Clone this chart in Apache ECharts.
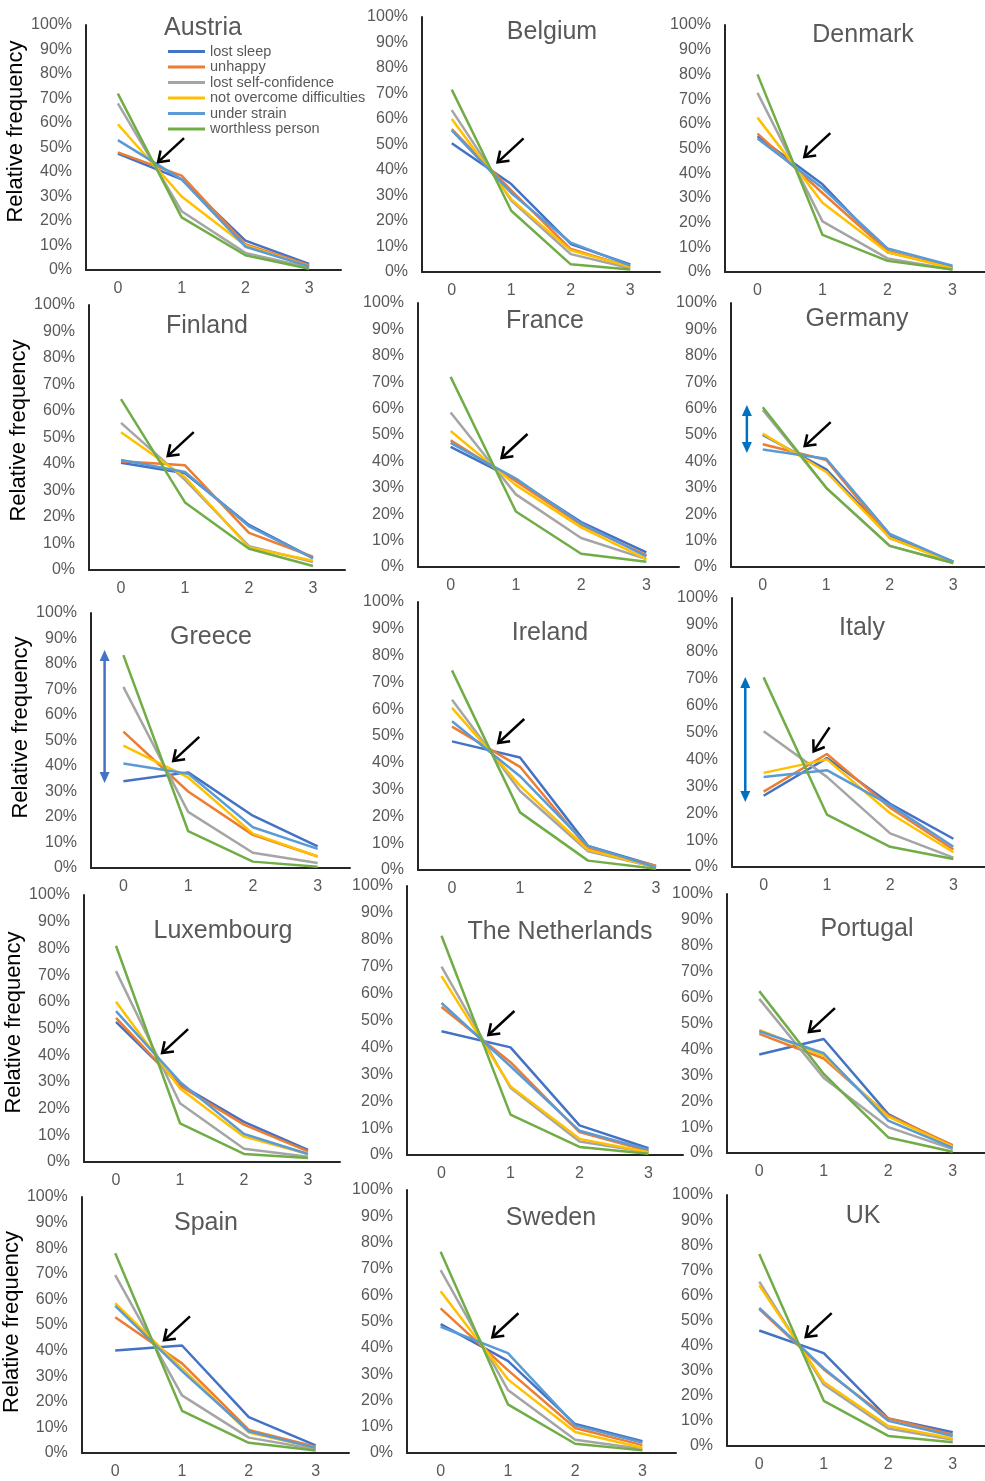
<!DOCTYPE html>
<html>
<head>
<meta charset="utf-8">
<script src="https://cdn.jsdelivr.net/npm/echarts@6/dist/echarts.min.js"></script>
<style>
  html, body { margin: 0; padding: 0; background: #fff; }
  #main { width: 985px; height: 1481px; }
</style>
</head>
<body>
<div id="main"></div>
<script>
// x categories (number of times) and y ticks
const categories = ['0', '1', '2', '3']
const metrics = ['lost sleep', 'unhappy', 'lost self-confidence', 'not overcome difficulties', 'under strain', 'worthless person']
const countries = ['Austria', 'Belgium', 'Denmark', 'Finland', 'France', 'Germany', 'Greece', 'Ireland', 'Italy',
    'Luxembourg', 'The Netherlands', 'Portugal', 'Spain', 'Sweden', 'UK']

// relative frequency in %, one row per metric (same order as metrics)
const austria = [[47.5, 37, 12, 2.5], [48, 38.5, 10.5, 2], [68, 24, 7, 1], [59.5, 30, 10, 1.5], [53, 37, 9.5, 1.5], [72, 21.5, 6, 0.5]]
const belgium = [[50.5, 34.5, 11, 3], [56, 32, 9, 2], [63.5, 28, 7, 1.5], [60, 28.5, 8.5, 2], [55.5, 31, 11.5, 2.5], [71.5, 24, 3, 1]]
const denmark = [[55, 35.5, 8, 2], [56, 32, 8.5, 1.5], [72.5, 20.5, 5.5, 1], [62.5, 28, 8, 1.5], [54, 34, 9.5, 2.5], [80, 15, 4.5, 1]]
const finland = [[40.5, 36.5, 17, 4.5], [41, 39.5, 14, 5], [55.5, 34, 9, 3], [52, 35, 8.5, 3.5], [41.5, 37, 16.5, 4.5], [64.5, 25.5, 8, 1.5]]
const france = [[45.5, 33, 17, 5.5], [48, 32.5, 16, 4.5], [58.5, 27.5, 11, 3], [51.5, 31, 15, 3], [47, 33.5, 16.5, 4], [72, 21, 5, 2]]
const germany = [[50, 37, 11.5, 2], [46.5, 40.5, 11, 2], [59.5, 30, 8, 1.5], [50.5, 36, 11, 1.5], [44.5, 41, 12.5, 2], [60.5, 30, 8, 1.5]]
const greece = [[34, 37.5, 20.5, 8.5], [53.5, 30, 13, 4.5], [71, 22, 6, 2], [48, 35.5, 13.5, 4.5], [41, 37, 16, 7.5], [83.5, 14.5, 2.5, 0.5]]
const ireland = [[48, 42, 9, 1.5], [53.5, 38.5, 8, 1.5], [63.5, 29.5, 7, 1], [60.5, 31.5, 7.5, 1], [55.5, 35, 9, 1], [74.5, 21.5, 3.5, 0.5]]
const italy = [[26.5, 40.5, 23.5, 10.5], [28, 42, 22, 6.5], [50.5, 33.5, 12.5, 3.5], [35, 40, 20, 5.5], [33.5, 36, 23, 7.5], [70.5, 19.5, 7.5, 3]]
const luxembourg = [[52.5, 29, 15, 4.5], [54, 28.5, 14, 4], [71.5, 22, 5, 2], [60, 27.5, 9.5, 3], [56.5, 30, 10.5, 3], [81, 14.5, 3, 1.5]]
const netherlands = [[46, 40, 11, 2.5], [55, 34.5, 8.5, 1.5], [70, 25, 5, 1], [66.5, 25.5, 6, 1], [56.5, 33, 9, 2], [81.5, 15, 3, 0.5]]
const portugal = [[38, 44, 15, 2.5], [46, 36.5, 14.5, 3], [59.5, 29, 10, 1.5], [47.5, 37.5, 14, 2.5], [47, 38.5, 12.5, 2], [62.5, 30.5, 6, 0.5]]
const spain = [[40, 42, 14, 3], [53, 35, 9, 2.5], [69.5, 22.5, 6, 1.5], [58.5, 33, 8, 2], [57.5, 32, 8.5, 2], [78, 16.5, 4, 1]]
const sweden = [[49, 35, 11, 4.5], [55, 31.5, 9.5, 3], [69.5, 24, 5, 1.5], [61.5, 28, 8, 2], [48, 38, 10.5, 4], [76.5, 18.5, 3.5, 1]]
const uk = [[46, 37, 11, 5.5], [54.5, 30.5, 11, 4.5], [65.5, 24.5, 7, 2.5], [64, 25.5, 8, 3], [55, 31, 10, 4], [76.5, 18, 4, 1.5]]
const values = [austria, belgium, denmark, finland, france, germany, greece, ireland, italy,
    luxembourg, netherlands, portugal, spain, sweden, uk]

// annotations: black arrows pointing at the crossing (panel, x in categories, y in %)
const crossArrows = [[0, 0.63, 44], [1, 0.77, 43], [2, 0.72, 46.5], [3, 0.73, 43], [4, 0.78, 41.3], [5, 0.66, 45.8],
    [6, 0.77, 42], [7, 0.68, 47.4], [8, 0.79, 43], [9, 0.72, 40.8], [10, 0.68, 44.6], [11, 0.77, 46.7],
    [12, 0.73, 44], [13, 0.77, 44], [14, 0.72, 43.4]]
// blue double arrows showing the spread at 0 (panel, x, y from, y to)
const spreadArrows = [[5, -0.25, 61.4, 43.2], [6, -0.29, 85.5, 33.3], [8, -0.29, 70.6, 24.2]]

// layout: [left, top, width, height] of each plot, title centre x / top
const gridBoxes = [
    [86, 25, 255, 245], [422, 17, 238, 255], [725, 25, 268, 247],
    [89, 305, 256, 265], [418, 303, 261, 264], [731, 303, 259, 264],
    [91, 613, 259, 255], [418, 602, 272, 268], [732, 598, 263, 269],
    [84, 895, 256, 267], [407, 886, 276, 269], [727, 894, 264, 259],
    [80, 1197, 269, 256], [407, 1190, 269, 263], [727, 1195, 263, 251]
]
const titlePos = [
    [203, 16], [552, 20], [863, 23],
    [207, 314], [545, 309], [857, 307],
    [211, 625], [550, 621], [862, 616],
    [223, 919], [560, 920], [867, 917],
    [206, 1211], [551, 1206], [863, 1204]
]
// y axis name gap / upward shift for the left column
const nameGaps = {0: [52, 32], 3: [54, 14], 6: [56, 26], 9: [52, 12], 12: [44, 6]}

const colors = ['#4472C4', '#ED7D31', '#A5A5A5', '#FFC000', '#5B9BD5', '#70AD47']
const gray = '#595959'
const font = 'Liberation Sans, Arial, sans-serif'

let myChart = echarts.init(document.getElementById('main'))

let series = []
values.forEach(function (rows, g) {
    rows.forEach(function (row, m) {
        series.push({
            name: metrics[m],
            type: 'line',
            xAxisIndex: g,
            yAxisIndex: g,
            data: row,
            symbol: 'none',
            lineStyle: {width: 2.5, color: colors[m]},
            itemStyle: {color: colors[m]}
        })
    })
})

let option = {
    animation: false,
    color: colors,
    textStyle: {fontFamily: font},
    title: countries.map(function (c, i) {
        return {
            text: c,
            left: titlePos[i][0],
            top: titlePos[i][1],
            padding: 0,
            textAlign: 'center',
            textStyle: {fontSize: 25, fontWeight: 'normal', color: gray, fontFamily: font}
        }
    }),
    legend: {
        data: metrics,
        orient: 'vertical',
        left: 168,
        top: 44,
        padding: 0,
        icon: 'rect',
        itemWidth: 37,
        itemHeight: 3,
        itemGap: 0.5,
        textStyle: {fontSize: 14.5, color: gray, fontFamily: font, lineHeight: 15}
    },
    grid: gridBoxes.map(function (b) {
        return {left: b[0], top: b[1], width: b[2], height: b[3]}
    }),
    xAxis: gridBoxes.map(function (b, i) {
        return {
            type: 'category',
            gridIndex: i,
            data: categories,
            boundaryGap: true,
            axisLine: {lineStyle: {color: '#262626', width: 2}},
            axisTick: {show: false},
            axisLabel: {color: gray, fontSize: 16, margin: 11, fontFamily: font}
        }
    }),
    yAxis: gridBoxes.map(function (b, i) {
        let ax = {
            type: 'value',
            gridIndex: i,
            min: 0,
            max: 100,
            interval: 10,
            axisLine: {show: true, lineStyle: {color: '#262626', width: 2}},
            axisTick: {show: false},
            splitLine: {show: false},
            axisLabel: {color: gray, fontSize: 16, margin: 14, formatter: '{value}%', fontFamily: font}
        }
        if (nameGaps[i]) {
            ax.name = 'Relative frequency'
            ax.nameLocation = 'middle'
            ax.nameRotate = 90
            ax.nameGap = nameGaps[i][0]
            ax.nameTextStyle = {fontSize: 22, color: '#000', fontFamily: font, padding: [0, 0, 0, nameGaps[i][1]]}
        }
        return ax
    }),
    series: series
}
myChart.setOption(option)

// x in category units (may be fractional) -> pixel
function toPx(g, x, y) {
    let a = myChart.convertToPixel({gridIndex: g}, [0, y])
    let b = myChart.convertToPixel({gridIndex: g}, [1, y])
    return [a[0] + (b[0] - a[0]) * x, a[1]]
}

let graphics = []
crossArrows.forEach(function (d) {
    let tip = toPx(d[0], d[1], d[2])
    let off = d[0] === 8 ? [16, -24] : [26, -24]
    let tail = [tip[0] + off[0], tip[1] + off[1]]
    let len = Math.hypot(off[0], off[1])
    let ux = off[0] / len, uy = off[1] / len
    let heads = [35, -35].map(function (deg) {
        let r = deg * Math.PI / 180
        let vx = ux * Math.cos(r) - uy * Math.sin(r)
        let vy = ux * Math.sin(r) + uy * Math.cos(r)
        return [tip[0] + vx * 12, tip[1] + vy * 12]
    })
    graphics.push({type: 'line', shape: {x1: tail[0], y1: tail[1], x2: tip[0], y2: tip[1]},
        style: {stroke: '#000', lineWidth: 2.5}, z: 100})
    graphics.push({type: 'polyline', shape: {points: [heads[0], tip, heads[1]]},
        style: {stroke: '#000', lineWidth: 2.5, fill: null}, z: 100})
})
spreadArrows.forEach(function (d) {
    let top = toPx(d[0], d[1], d[2])
    let bot = toPx(d[0], d[1], d[3])
    let c = d[0] === 6 ? '#4472C4' : '#0070C0'
    let x = top[0]
    graphics.push({type: 'line', shape: {x1: x, y1: top[1] + 8, x2: x, y2: bot[1] - 8},
        style: {stroke: c, lineWidth: 2.5}, z: 100})
    graphics.push({type: 'polygon', shape: {points: [[x, top[1]], [x - 5, top[1] + 11], [x + 5, top[1] + 11]]},
        style: {fill: c}, z: 100})
    graphics.push({type: 'polygon', shape: {points: [[x, bot[1]], [x - 5, bot[1] - 11], [x + 5, bot[1] - 11]]},
        style: {fill: c}, z: 100})
})
myChart.setOption({graphic: graphics})
</script>
</body>
</html>
